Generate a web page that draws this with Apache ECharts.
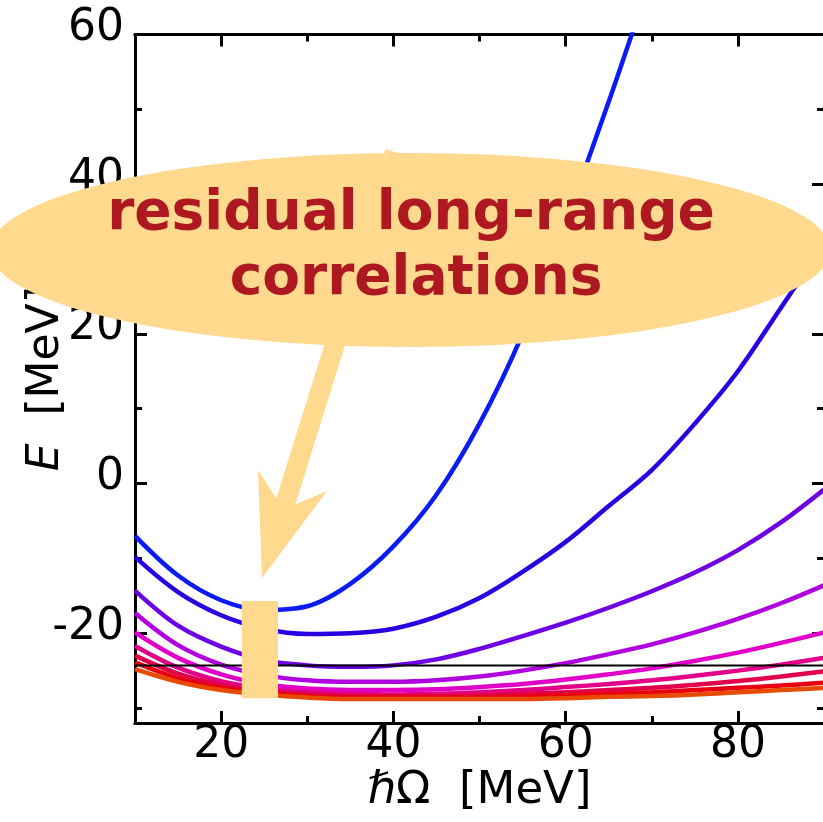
<!DOCTYPE html>
<html>
<head>
<meta charset="utf-8">
<script src="https://cdn.jsdelivr.net/npm/echarts@6/dist/echarts.min.js"></script>
<style>html,body{margin:0;padding:0;background:#fff;}#c{width:823px;height:822px;}</style>
</head>
<body>
<div id="c"></div>
<script>
const hbarOmega = [10,15,20,25,30,35,40,45,50,55,60,65,70,75,80,85,90];
const E1 = [-7.0,-12.3,-15.6,-16.9,-16.4,-13.4,-8.4,-1.5,8.0,20.0,35.0,51.0,68.0];
const E2 = [-9.8,-14.5,-17.6,-19.4,-20.1,-20.0,-19.4,-17.8,-15.3,-11.8,-7.8,-3.0,1.8,8.0,15.0,23.5,32.0];
const E3 = [-14.3,-19.0,-21.8,-23.6,-24.3,-24.5,-24.3,-23.5,-22.1,-20.4,-18.6,-16.6,-14.4,-11.9,-8.9,-5.2,-0.8];
const E4 = [-17.3,-21.6,-24.2,-25.6,-26.3,-26.5,-26.5,-26.3,-25.8,-25.0,-24.0,-22.8,-21.5,-19.9,-18.1,-16.0,-13.6];
const E5 = [-19.9,-23.3,-25.5,-26.8,-27.4,-27.6,-27.6,-27.5,-27.2,-26.8,-26.2,-25.5,-24.7,-23.7,-22.6,-21.3,-19.9];
const E6 = [-21.7,-24.6,-26.4,-27.4,-27.9,-28.1,-28.2,-28.1,-27.9,-27.6,-27.2,-26.8,-26.3,-25.7,-25.0,-24.2,-23.3];
const E7 = [-23.0,-25.4,-26.9,-27.8,-28.2,-28.4,-28.4,-28.4,-28.3,-28.1,-27.9,-27.6,-27.3,-26.9,-26.4,-25.8,-25.1];
const E8 = [-23.9,-26.0,-27.3,-28.0,-28.4,-28.6,-28.6,-28.6,-28.6,-28.5,-28.3,-28.1,-27.9,-27.6,-27.3,-27.0,-26.6];
const E9 = [-24.8,-26.5,-27.6,-28.2,-28.6,-28.8,-28.8,-28.8,-28.8,-28.8,-28.7,-28.5,-28.4,-28.2,-27.9,-27.6,-27.3];
const curves = [E1,E2,E3,E4,E5,E6,E7,E8,E9];
const curveColors = ['#0A1CF2','#2A00E2','#6E00E6','#B000E0','#E000C8','#E2008A','#E0004C','#E80010','#E84A00'];
const refLevel = -24.3;
const xMajor = [20,40,60,80];
const xMinor = [30,50,70];
const yMajor = [-20,0,20,40,60];
const yMinor = [-30,-10,10,30,50];
const highlightX = [22.4,26.6];
const highlightY = [-15.7,-28.7];
const noteLines = ['residual long-range','correlations'];

const FONT = 'DejaVu Sans';
const lineStyleAxis = {color:'#000', width:3};

function xAx(pos, ticks, len, labels, extra){
  return Object.assign({
    type:'value', min:10, max:90, position:pos,
    axisLine:{show:true, onZero:false, lineStyle:lineStyleAxis},
    axisTick:{show:true, inside:true, length:len, lineStyle:{color:'#000', width:3}, customValues:ticks},
    axisLabel:{show:labels, customValues:ticks, margin:1, fontSize:44, fontFamily:FONT, color:'#000'},
    splitLine:{show:false}
  }, extra||{});
}
function yAx(pos, ticks, len, labels, extra){
  return Object.assign({
    type:'value', min:-32, max:60, position:pos,
    axisLine:{show:true, onZero:false, lineStyle:lineStyleAxis},
    axisTick:{show:true, inside:true, length:len, lineStyle:{color:'#000', width:3}, customValues:ticks},
    axisLabel:{show:labels, customValues:ticks, margin:11, verticalAlign:'bottom', lineHeight:12, fontSize:44, fontFamily:FONT, color:'#000'},
    splitLine:{show:false}
  }, extra||{});
}

const series = curves.map((arr,i)=>({
  type:'line', xAxisIndex:0, yAxisIndex:0,
  data: arr.map((v,k)=>[hbarOmega[k], v]),
  smooth:0.35, showSymbol:false, symbol:'none',
  lineStyle:{color:curveColors[i], width:4.5}, z:3, clip:true, silent:true
}));
series.push({
  type:'line', xAxisIndex:0, yAxisIndex:0,
  data:[[hbarOmega[0], refLevel],[hbarOmega[hbarOmega.length-1], refLevel]],
  showSymbol:false, symbol:'none', lineStyle:{color:'#000', width:2}, z:4, silent:true
});
series.push({
  type:'line', xAxisIndex:0, yAxisIndex:0, data:[], z:20, silent:true,
  markArea:{silent:true, z:20, itemStyle:{color:'#FED98E', opacity:1},
    data:[[{coord:[highlightX[0], highlightY[0]]},{coord:[highlightX[1], highlightY[1]]}]]}
});

const chart = echarts.init(document.getElementById('c'), null, {renderer:'canvas'});
chart.setOption({
  animation:false,
  backgroundColor:'#fff',
  grid:{left:135, right:-1, top:34.5, bottom:99, containLabel:false, outerBoundsMode:'none'},
  xAxis:[
    xAx('bottom', xMajor, 12, true, {
      name:'{i|ℏ}Ω  [MeV]', nameLocation:'middle', nameGap:46, nameMoveOverlap:false,
      nameTextStyle:{fontSize:45, fontFamily:FONT, color:'#000', rich:{i:{fontStyle:'italic', fontSize:45, fontFamily:FONT, color:'#000'}}}
    }),
    xAx('bottom', xMinor, 7, false),
    xAx('top', xMajor, 12, false),
    xAx('top', xMinor, 7, false)
  ],
  yAxis:[
    yAx('left', yMajor, 12, true, {
      name:'{i|E}  [MeV]', nameLocation:'middle', nameGap:66, nameRotate:90, nameMoveOverlap:false,
      nameTextStyle:{fontSize:44, fontFamily:FONT, color:'#000', rich:{i:{fontStyle:'italic', fontSize:44, fontFamily:FONT, color:'#000'}}}
    }),
    yAx('left', yMinor, 7, false),
    yAx('right', yMajor, 12, false),
    yAx('right', yMinor, 7, false)
  ],
  series: series,
  graphic:[
    {type:'circle', x:410, y:250, scaleX:420/97, scaleY:1, shape:{cx:0, cy:0, r:97}, style:{fill:'#FED98E'}, z:100, silent:true},
    {type:'polygon', shape:{points:[[385.5,149],[404.5,155],[295.3,504.6],[326.8,491.3],[262,578],[258,469.9],[276.3,498.6]]}, style:{fill:'#FED98E'}, z:100, silent:true},
    {type:'text', x:411, y:215, style:{text:noteLines[0], font:'bold 55px "DejaVu Sans"', fill:'#AE1820', align:'center', verticalAlign:'middle'}, z:101, silent:true},
    {type:'text', x:416, y:280, style:{text:noteLines[1], font:'bold 55px "DejaVu Sans"', fill:'#AE1820', align:'center', verticalAlign:'middle'}, z:101, silent:true}
  ]
});
</script>
</body>
</html>
